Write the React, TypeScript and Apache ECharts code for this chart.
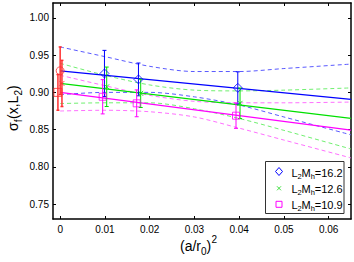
import React, { useEffect, useRef } from "react";
import * as echarts from "echarts";

// ---- data ----
const xTicks = [0, 0.01, 0.02, 0.03, 0.04, 0.05, 0.06];
const yTicks = [0.75, 0.8, 0.85, 0.9, 0.95, 1.0];

const blueX = [0.0099, 0.0175, 0.0397];
const blueY = [0.9254, 0.9174, 0.9061];
const blueErr = [0.031, 0.022, 0.0215];
const greenX = [0.0104, 0.018, 0.0402];
const greenY = [0.9075, 0.8987, 0.8853];
const greenErr = [0.0265, 0.019, 0.0205];
const magentaX = [0.0095, 0.0171, 0.0393];
const magentaY = [0.8941, 0.8853, 0.8687];
const magentaErr = [0.023, 0.018, 0.017];

// extrapolated continuum values (circle, cross, square)
const extrapX = [0, 0.0004, -0.0005];
const extrapY = [0.929, 0.912, 0.9];
const extrapErr = [0.032, 0.031, 0.024];

const fitX = [0, 0.065];
const blueFit = [0.929, 0.8906];
const greenFit = [0.912, 0.8652];
const magentaFit = [0.9, 0.8493];

const bandX = [0, 0.01, 0.02, 0.03, 0.04, 0.05, 0.065];
const blueUpper = [0.961, 0.948, 0.935, 0.928, 0.928, 0.932, 0.938];
const blueLower = [0.897, 0.9, 0.9, 0.894, 0.883, 0.867, 0.843];
const greenUpper = [0.939, 0.923, 0.91, 0.903, 0.902, 0.903, 0.906];
const greenLower = [0.885, 0.886, 0.886, 0.878, 0.865, 0.849, 0.824];
const magentaUpper = [0.923, 0.909, 0.896, 0.888, 0.886, 0.886, 0.887];
const magentaLower = [0.875, 0.876, 0.874, 0.867, 0.852, 0.836, 0.812];

const legendNames = ["16.2", "12.6", "10.9"];

const BLUE = "#0000ff";
const GREEN = "#00e000";
const MAGENTA = "#ff00ff";
const RED = "#ff3030";
const FONT = "Liberation Sans, Arial, Helvetica, sans-serif";
const CROSS = "path://M0,0L10,10M10,0L0,10";

const zip = (xs: number[], ys: number[]) => xs.map((x, i) => [x, ys[i]]);
const zip3 = (xs: number[], ys: number[], es: number[]) => xs.map((x, i) => [x, ys[i], es[i]]);

function errSeries(data: number[][], color: string, width = 1, cap = 2) {
  return {
    type: "custom",
    z: 4,
    data,
    encode: { x: 0, y: 1 },
    renderItem: (params: any, api: any) => {
      const x = api.value(0), y = api.value(1), e = api.value(2);
      const t = api.coord([x, y + e]);
      const b = api.coord([x, y - e]);
      const st = { stroke: color, lineWidth: width };
      return {
        type: "group",
        children: [
          { type: "line", shape: { x1: t[0], y1: t[1], x2: b[0], y2: b[1] }, style: st },
          { type: "line", shape: { x1: t[0] - cap, y1: t[1], x2: t[0] + cap, y2: t[1] }, style: st },
          { type: "line", shape: { x1: b[0] - cap, y1: b[1], x2: b[0] + cap, y2: b[1] }, style: st },
        ],
      };
    },
  };
}

function dashed(data: number[][], color: string) {
  return {
    type: "line", data, showSymbol: false, smooth: 0.3, z: 2,
    lineStyle: { color, width: 1, type: [4, 3] },
  };
}
function solid(data: number[][], color: string) {
  return {
    type: "line", data, showSymbol: false, z: 3,
    lineStyle: { color, width: 1.3 },
  };
}
function marks(data: number[][], color: string, symbol: string, size: number) {
  return {
    type: "scatter", data, symbol, symbolSize: size, z: 5,
    itemStyle: { color: "rgba(0,0,0,0)", borderColor: color, borderWidth: 1 },
  };
}

function axisCommon(show: boolean, fmt: (v: number) => string, ticks: number[]) {
  return {
    type: "value",
    axisLine: { show: true, onZero: false, lineStyle: { color: "#000", width: 1.5 } },
    axisTick: { show: true, inside: true, length: 3, customValues: ticks, lineStyle: { color: "#000", width: 1 } },
    axisLabel: {
      show, customValues: ticks, formatter: fmt, color: "#000", fontSize: 10, fontFamily: FONT,
    },
    splitLine: { show: false },
  };
}

export default function App() {
  const ref = useRef<HTMLDivElement>(null);
  useEffect(() => {
    if (!ref.current) return;
    const chart = echarts.init(ref.current, undefined, { renderer: "svg" });
    const fx = (v: number) => (v === 0 ? "0" : v.toFixed(2));
    const fy = (v: number) => v.toFixed(2);
    const xr = { min: -0.0016, max: 0.065 };
    const yr = { min: 0.73, max: 1.02 };

    const txt = (text: string, x: number, y: number, size: number, z = 1) => ({
      type: "text", x, y, z,
      style: {
        text, font: `${size}px ${FONT}`, fill: "#000",
        textAlign: "left", align: "left", textVerticalAlign: "bottom", verticalAlign: "bottom",
      },
    });

    const legendRows = [175.5, 191.5, 207.5];
    const legendGraphics: any[] = [
      { type: "rect", z: 10, shape: { x: 265.5, y: 161.5, width: 78.5, height: 52 }, style: { fill: "#fff", stroke: "#333", lineWidth: 1 } },
    ];
    legendRows.forEach((by, i) => {
      const b = by + 2.5;
      legendGraphics.push(txt("L", 291.5, b, 11, 12));
      legendGraphics.push(txt("2", 297.6, b + 2.5, 7.5, 12));
      legendGraphics.push(txt("M", 301.6, b, 11, 12));
      legendGraphics.push(txt("h", 310.8, b + 2.5, 7.5, 12));
      legendGraphics.push(txt("=" + legendNames[i], 314.8, b, 11, 12));
    });
    // legend markers
    legendGraphics.push({ type: "polygon", z: 12, shape: { points: [[279, 167.5], [282.5, 171.5], [279, 175.5], [275.5, 171.5]] }, style: { fill: "none", stroke: BLUE, lineWidth: 1 } });
    legendGraphics.push({ type: "line", z: 12, shape: { x1: 277, y1: 186.3, x2: 281, y2: 190.3 }, style: { stroke: "#40e040", lineWidth: 1 } });
    legendGraphics.push({ type: "line", z: 12, shape: { x1: 281, y1: 186.3, x2: 277, y2: 190.3 }, style: { stroke: "#40e040", lineWidth: 1 } });
    legendGraphics.push({ type: "rect", z: 12, shape: { x: 276, y: 201.3, width: 6, height: 6 }, style: { fill: "none", stroke: MAGENTA, lineWidth: 1 } });

    chart.setOption({
      animation: false,
      backgroundColor: "#fff",
      grid: { left: 53, right: 3, top: 3, bottom: 43, containLabel: false },
      xAxis: [
        { ...axisCommon(true, fx, xTicks), position: "bottom", ...xr, axisLabel: { ...axisCommon(true, fx, xTicks).axisLabel, margin: 5 } },
        { ...axisCommon(false, fx, xTicks), position: "top", ...xr },
      ],
      yAxis: [
        { ...axisCommon(true, fy, yTicks), position: "left", ...yr, axisLabel: { ...axisCommon(true, fy, yTicks).axisLabel, margin: 4 } },
        { ...axisCommon(false, fy, yTicks), position: "right", ...yr },
      ],
      series: [
        dashed(zip(bandX, blueUpper), "#5a5aff"),
        dashed(zip(bandX, blueLower), "#5a5aff"),
        dashed(zip(bandX, greenUpper), "#70f070"),
        dashed(zip(bandX, greenLower), "#70f070"),
        dashed(zip(bandX, magentaUpper), "#ff70ff"),
        dashed(zip(bandX, magentaLower), "#ff70ff"),
        solid(zip(fitX, blueFit), BLUE),
        solid(zip(fitX, greenFit), GREEN),
        solid(zip(fitX, magentaFit), MAGENTA),
        errSeries(zip3(blueX, blueY, blueErr), BLUE),
        errSeries(zip3(greenX, greenY, greenErr), GREEN),
        errSeries(zip3(magentaX, magentaY, magentaErr), MAGENTA),
        errSeries(zip3(extrapX, extrapY, extrapErr), RED, 1.5, 1.5),
        marks(zip(blueX, blueY), BLUE, "diamond", 9),
        marks(zip(greenX, greenY), GREEN, CROSS, 5),
        marks(zip(magentaX, magentaY), MAGENTA, "rect", 7),
        marks([[extrapX[0], extrapY[0]]], RED, "circle", 8),
        marks([[extrapX[1], extrapY[1]]], RED, CROSS, 5),
        marks([[extrapX[2], extrapY[2]]], RED, "rect", 8),
      ],
      graphic: [
        // x-axis title (a/r0)^2
        txt("(a/r", 180, 253, 14),
        txt("0", 201, 256.5, 10),
        txt(")", 206.6, 253, 14),
        txt("2", 211.6, 244, 10),
        // y-axis title sigma_f(x,L2)
        {
          type: "group", x: 17, y: 131, rotation: Math.PI / 2,
          children: [
            txt("σ", 0, 3, 14),
            txt("f", 8.8, 6.5, 10),
            txt("(x,L", 12, 3, 14),
            txt("2", 35.4, 6.5, 10),
            txt(")", 41, 3, 14),
          ],
        },
        ...legendGraphics,
      ],
    });
    return () => chart.dispose();
  }, []);
  return <div ref={ref} style={{ position: "fixed", left: 0, top: 0, width: 354, height: 262 }} />;
}
